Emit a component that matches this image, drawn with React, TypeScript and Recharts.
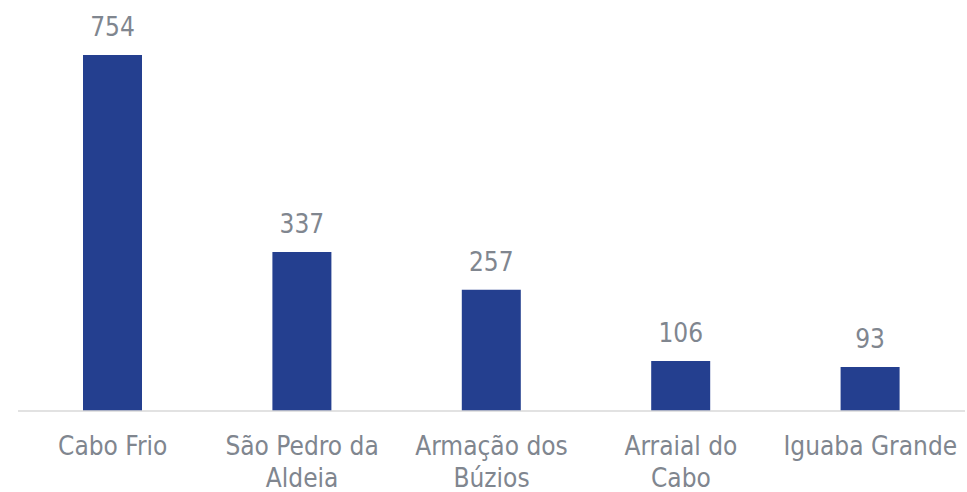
import React from "react";
import { BarChart, Bar, XAxis, YAxis, LabelList } from "recharts";

const categories = ["Cabo Frio", "São Pedro da\nAldeia", "Armação dos\nBúzios", "Arraial do\nCabo", "Iguaba Grande"];
const values = [754, 337, 257, 106, 93];

const FONT = "'DejaVu Sans Condensed', 'DejaVu Sans', sans-serif";
const TEXT = "#80868f";

function CityTick(props: any) {
  const { x, y, payload } = props;
  const lines = String(payload.value).split("\n");
  return (
    <text x={x} y={y} textAnchor="middle" fill={TEXT} fontSize={26} fontFamily={FONT}>
      {lines.map((line, i) => (
        <tspan key={i} x={x} dy={i === 0 ? 36 : 32}>
          {line}
        </tspan>
      ))}
    </text>
  );
}

export default function App() {
  const data = categories.map((name, i) => ({ name, value: values[i] }));
  return (
    <div style={{ position: "absolute", left: 0, top: 0, background: "#fff" }}>
      <BarChart width={967} height={492} data={data} margin={{ top: 55, right: 2, bottom: 0, left: 18 }}>
        <XAxis
          dataKey="name"
          height={81}
          interval={0}
          tickLine={false}
          axisLine={{ stroke: "#d9d9d9", strokeWidth: 1.5 }}
          tick={<CityTick />}
        />
        <YAxis hide domain={[0, 754]} />
        <Bar dataKey="value" fill="#243f8f" barSize={59} isAnimationActive={false}>
          <LabelList dataKey="value" position="top" offset={19} fill={TEXT} fontSize={26} fontFamily={FONT} />
        </Bar>
      </BarChart>
    </div>
  );
}
